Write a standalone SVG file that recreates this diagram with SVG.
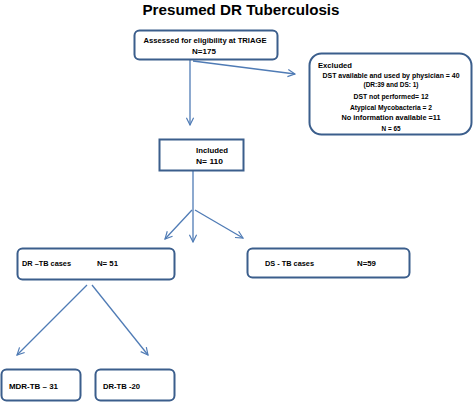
<svg xmlns="http://www.w3.org/2000/svg" width="474" height="403" viewBox="0 0 474 403">
<style>
.box{fill:#fff;stroke:#3b5e8c;stroke-width:2}
.t{font-family:"Liberation Sans",Arial,sans-serif;font-weight:bold;font-size:8px;fill:#000}
.e{font-size:7px}
.c{stroke:#4f7bb5;stroke-width:1.3;fill:none}
</style>
<defs>
<marker id="ah" viewBox="0 0 10 10" refX="9" refY="5" markerWidth="9" markerHeight="9" markerUnits="userSpaceOnUse" orient="auto">
<path d="M1,1 L9,5 L1,9" fill="none" stroke="#4f7bb5" stroke-width="1.3"/>
</marker>
</defs>
<rect width="474" height="403" fill="#fff"/>
<text x="241" y="15" text-anchor="middle" font-family="Liberation Sans,Arial,sans-serif" font-weight="bold" font-size="15" textLength="197" lengthAdjust="spacingAndGlyphs">Presumed DR Tuberculosis</text>
<g id="connectors">
<line class="c" x1="190" y1="60" x2="190" y2="125" marker-end="url(#ah)"/>
<line class="c" x1="193" y1="61" x2="295" y2="74" marker-end="url(#ah)"/>
<line class="c" x1="193" y1="171" x2="193" y2="242" marker-end="url(#ah)"/>
<line class="c" x1="192" y1="210" x2="165" y2="239" marker-end="url(#ah)"/>
<line class="c" x1="195" y1="210" x2="243" y2="238" marker-end="url(#ah)"/>
<line class="c" x1="87" y1="285" x2="17" y2="355" marker-end="url(#ah)"/>
<line class="c" x1="92" y1="285" x2="148" y2="355" marker-end="url(#ah)"/>
</g>
<g id="assessed">
<rect class="box" x="134.5" y="30.5" width="143" height="29" rx="5"/>
<text class="t" x="205" y="43" text-anchor="middle" textLength="123" lengthAdjust="spacingAndGlyphs">Assessed for eligibility at TRIAGE</text>
<text class="t" x="204" y="54" text-anchor="middle">N=175</text>
</g>
<g id="excluded">
<rect class="box" x="309.5" y="53.5" width="162" height="81" rx="12"/>
<text class="t" x="318" y="68" textLength="34" lengthAdjust="spacingAndGlyphs">Excluded</text>
<text class="t e" x="391" y="78" text-anchor="middle" textLength="137" lengthAdjust="spacingAndGlyphs">DST available and used by physician = 40</text>
<text class="t e" x="391" y="87" text-anchor="middle" textLength="55" lengthAdjust="spacingAndGlyphs">(DR:39 and DS: 1)</text>
<text class="t e" x="391" y="99" text-anchor="middle" textLength="75" lengthAdjust="spacingAndGlyphs">DST not performed= 12</text>
<text class="t e" x="391" y="110" text-anchor="middle" textLength="82" lengthAdjust="spacingAndGlyphs">Atypical Mycobacteria = 2</text>
<text class="t e" x="391" y="120" text-anchor="middle" textLength="99" lengthAdjust="spacingAndGlyphs">No information available =11</text>
<text class="t e" x="391" y="131" text-anchor="middle" textLength="19" lengthAdjust="spacingAndGlyphs">N = 65</text>
</g>
<g id="included">
<rect class="box" x="159.5" y="139.5" width="84" height="31" stroke="#4f7bb5" stroke-width="2.2"/>
<text class="t" x="196" y="153" textLength="32" lengthAdjust="spacingAndGlyphs">Included</text>
<text class="t" x="196" y="164" textLength="27" lengthAdjust="spacingAndGlyphs">N= 110</text>
</g>
<g id="drtb">
<rect class="box" x="17.5" y="248.5" width="157" height="31" rx="5"/>
<text class="t" x="22" y="266" textLength="49" lengthAdjust="spacingAndGlyphs">DR –TB cases</text>
<text class="t" x="97" y="266" textLength="21" lengthAdjust="spacingAndGlyphs">N= 51</text>
</g>
<g id="dstb">
<rect class="box" x="247.5" y="248.5" width="162" height="29" rx="5"/>
<text class="t" x="265" y="266" textLength="49" lengthAdjust="spacingAndGlyphs">DS - TB cases</text>
<text class="t" x="357" y="266" textLength="19" lengthAdjust="spacingAndGlyphs">N=59</text>
</g>
<g id="mdrtb">
<rect class="box" x="1.5" y="369.5" width="79" height="31" rx="5"/>
<text class="t" x="9" y="389" textLength="49" lengthAdjust="spacingAndGlyphs">MDR-TB – 31</text>
</g>
<g id="drtb20">
<rect class="box" x="95.5" y="369.5" width="79" height="31" rx="5"/>
<text class="t" x="103" y="389" textLength="37" lengthAdjust="spacingAndGlyphs">DR-TB -20</text>
</g>
</svg>
